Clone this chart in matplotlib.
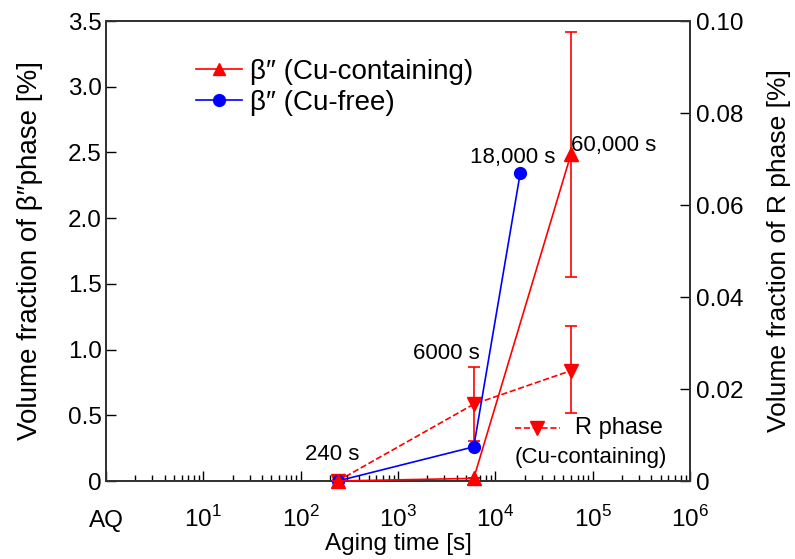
import matplotlib
matplotlib.use("Agg")
import matplotlib.pyplot as plt
from matplotlib.lines import Line2D
from matplotlib.ticker import FixedLocator, LogLocator, NullFormatter

plt.rcParams['font.family'] = ['Liberation Sans', 'DejaVu Sans']
plt.rcParams['mathtext.fontset'] = 'custom'
plt.rcParams['mathtext.rm'] = 'Liberation Sans'

# Data
time_cu = [240, 6000, 60000]
beta_cu = [0.0, 0.02, 2.49]
beta_cu_lo = [0.0, 0.0, 0.94]
beta_cu_hi = [0.0, 0.0, 0.93]

time_free = [240, 6000, 18000]
beta_free = [0.0, 0.26, 2.34]

time_r = [240, 6000, 60000]
r_phase = [0.0, 0.0167, 0.0240]
r_lo = [0.0, 0.0080, 0.0092]
r_hi = [0.0, 0.0080, 0.0096]

xtick_vals = [1, 10, 100, 1000, 1e4, 1e5, 1e6]
xtick_labels = ['AQ', r'$10^{1}$', r'$10^{2}$', r'$10^{3}$', r'$10^{4}$', r'$10^{5}$', r'$10^{6}$']
ytick_left = [0, 0.5, 1.0, 1.5, 2.0, 2.5, 3.0, 3.5]
ytick_left_labels = ['0', '0.5', '1.0', '1.5', '2.0', '2.5', '3.0', '3.5']
ytick_right = [0, 0.02, 0.04, 0.06, 0.08, 0.10]
ytick_right_labels = ['0', '0.02', '0.04', '0.06', '0.08', '0.10']

annotations = [("240 s", 240, 0.0, -5, 26),
               ("6000 s", 6000, 0.58, -27, 51),
               ("18,000 s", 18000, 2.34, -7, 16),
               ("60,000 s", 60000, 2.49, 43, 8)]

FS_TICK = 17.5
FS_XLAB = 17.5
FS_YLAB = 20
FS_ANN = 16
FS_LEG = 20
FS_LEG2 = 17

L, R, T, B = 106, 690, 21, 481
W, H = R - L, B - T

fig = plt.figure(figsize=(7.95, 5.59), dpi=100)
ax = fig.add_axes([L/795, 1-B/559, W/795, H/559])
ax2 = ax.twinx()

ax.set_xscale('log')
ax.set_xlim(1, 1e6)
ax.set_ylim(0, 3.5)
ax2.set_ylim(0, 0.1)

# R phase on right axis
ax2.errorbar(time_r, r_phase, yerr=[r_lo, r_hi], color='red', ls='--', lw=1.2,
             marker='v', ms=9.5, capsize=4.5, elinewidth=1.2, capthick=1.2, clip_on=False, zorder=3)

ax.plot(time_free, beta_free, color='blue', lw=1.2, marker='o', ms=8.5, clip_on=False,
        zorder=4, label='β″ (Cu-free)')
ax.errorbar(time_cu, beta_cu, yerr=[beta_cu_lo, beta_cu_hi], color='red', lw=1.2,
            marker='^', ms=9.5, capsize=4.5, elinewidth=1.2, capthick=1.2, clip_on=False,
            zorder=5, label='β″ (Cu-containing)')
ax.set_zorder(ax2.get_zorder() + 1)
ax.patch.set_visible(False)

for txt, xv, yv, dx, dy in annotations:
    ax.annotate(txt, xy=(xv, yv), xytext=(dx, dy), textcoords='offset pixels',
                ha='center', va='center', fontsize=FS_ANN)

ax.xaxis.set_major_locator(FixedLocator(xtick_vals))
ax.set_xticklabels(xtick_labels, va='baseline')
ax.xaxis.set_minor_locator(LogLocator(base=10, subs=range(2, 10), numticks=20))
ax.xaxis.set_minor_formatter(NullFormatter())
ax.set_yticks(ytick_left)
ax.set_yticklabels(ytick_left_labels)
ax2.set_yticks(ytick_right)
ax2.set_yticklabels(ytick_right_labels)

ax.tick_params(axis='x', which='major', direction='in', length=7, width=1, pad=33,
               labelsize=FS_TICK, top=False)
ax.tick_params(axis='x', which='minor', direction='in', length=4, width=1, top=False)
ax.tick_params(axis='y', direction='in', length=7, width=1, labelsize=FS_TICK, pad=3)
ax2.tick_params(axis='y', direction='in', length=7, width=1, labelsize=FS_TICK, pad=4)

for a in (ax, ax2):
    for s in a.spines.values():
        s.set_linewidth(1.3)
        s.set_color('#333333')

ax.set_xlabel('Aging time [s]', fontsize=FS_XLAB)
ax.xaxis.set_label_coords(0.5, (B-533)/H)
ax.set_ylabel('Volume fraction of β″phase [%]', fontsize=FS_YLAB)
ax.yaxis.set_label_coords((43-L)/W, 0.5)
ax2.set_ylabel('Volume fraction of R phase [%]', fontsize=FS_YLAB - 1)
ax2.yaxis.set_label_coords((767-L)/W, 0.5)

handles, labels = ax.get_legend_handles_labels()
order = [labels.index('β″ (Cu-containing)'), labels.index('β″ (Cu-free)')]
leg = ax.legend([Line2D([], [], color='red', marker='^', ms=9, lw=1.2),
                 Line2D([], [], color='blue', marker='o', ms=8.5, lw=1.2)],
                [labels[i] for i in order], loc='upper left',
                bbox_to_anchor=((185-L)/W, (B-48)/H), frameon=False, fontsize=FS_LEG,
                handlelength=1.65, handletextpad=0.3, labelspacing=0.18, borderaxespad=0)

# Second legend: R phase
ly1 = (B-428)/H
ly2 = (B-458)/H
ax.add_line(Line2D([(515-L)/W, (560-L)/W], [ly1, ly1], transform=ax.transAxes, color='red',
                   ls='--', lw=1.2, clip_on=False))
ax.add_line(Line2D([(537-L)/W], [ly1], transform=ax.transAxes, color='red',
                   marker='v', ms=9.5, lw=0, clip_on=False))
ax.text((575-L)/W, ly1, 'R phase', transform=ax.transAxes, fontsize=FS_LEG2, va='center', ha='left')
ax.text((515-L)/W, ly2, '(Cu-containing)', transform=ax.transAxes, fontsize=16, va='center', ha='left')

fig.savefig('out.png', dpi=100)
